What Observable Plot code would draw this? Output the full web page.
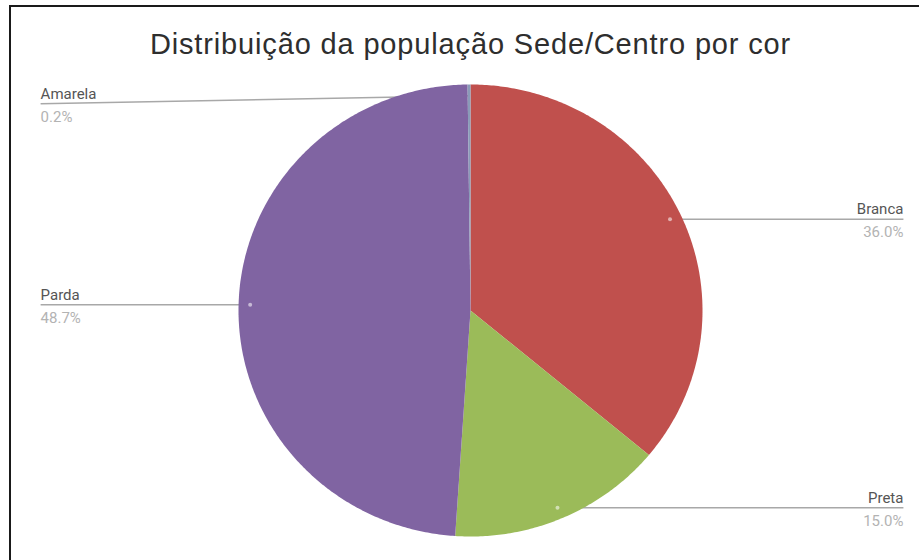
<!DOCTYPE html>
<html><head><meta charset="utf-8">
<script src="https://cdn.jsdelivr.net/npm/d3@7"></script>
<script src="https://cdn.jsdelivr.net/npm/@observablehq/plot@0.6"></script>
<style>
body{margin:0;background:#fff}
#wrap{position:relative;width:919px;height:560px;overflow:hidden;background:#fff}
#wrap svg{position:absolute;left:0;top:0}
#frame{position:absolute;left:9px;top:5px;right:-5px;bottom:-5px;border-top:2px solid #1a1a1a;border-left:2px solid #1a1a1a;pointer-events:none}
.ttl text{letter-spacing:0.85px}
</style>
</head><body><div id="wrap"><div id="frame"></div></div>
<script>
const title = "Distribuição da população Sede/Centro por cor";
const categories = ["Branca", "Preta", "Parda", "Amarela"];
const values = [36.0, 15.0, 48.7, 0.2];
const valueLabels = ["36.0%", "15.0%", "48.7%", "0.2%"];
const colors = ["#c0504d", "#9bbb59", "#8064a2", "#8a9bb8"];

const arcs = d3.pie().sort(null).value(d => d.value).startAngle(0).endAngle(2 * Math.PI)(
  categories.map((c, i) => ({category: c, value: values[i], label: valueLabels[i]}))
);

// slice polygons in unit coordinates
const poly = [];
for (const a of arcs) {
  const n = Math.max(2, Math.ceil((a.endAngle - a.startAngle) / 0.01));
  poly.push({cat: a.data.category, px: 0, py: 0});
  for (let k = 0; k <= n; k++) {
    const t = a.startAngle + (a.endAngle - a.startAngle) * k / n;
    poly.push({cat: a.data.category, px: Math.sin(t), py: Math.cos(t)});
  }
  poly.push({cat: a.data.category, px: 0, py: 0});
}

const anchorR = 0.95;
const leftX = -1.853, rightX = 1.866;
const labels = arcs.map(a => {
  const m = (a.startAngle + a.endAngle) / 2;
  const ax = anchorR * Math.sin(m), ay = anchorR * Math.cos(m);
  const right = ax > 0.05;
  return {
    category: a.data.category, label: a.data.label,
    ax, ay, lx: right ? rightX : leftX, ly: Math.min(ay, 0.915), right
  };
});
const leftLabels = labels.filter(d => !d.right);
const rightLabels = labels.filter(d => d.right);

const labelFont = {fontSize: 15, fontFamily: "Roboto, sans-serif"};
const textMarks = (data, anchor) => [
  Plot.text(data, {x: "lx", y: "ly", text: "category", dy: -10, textAnchor: anchor, fill: "#555", ...labelFont}),
  Plot.text(data, {x: "lx", y: "ly", text: "label", dy: 13, textAnchor: anchor, fill: "#b3b3b3", ...labelFont})
];

const chart = Plot.plot({
  width: 919, height: 560,
  margin: 0,
  x: {domain: [-1, 1], range: [238, 702], axis: null},
  y: {domain: [-1, 1], range: [536, 84], axis: null},
  color: {domain: categories, range: colors},
  style: {background: "transparent"},
  marks: [
    Plot.link(labels, {x1: "ax", y1: "ay", x2: "lx", y2: "ly", stroke: "#a8a8a8", strokeWidth: 1.5}),
    Plot.line(poly, {x: "px", y: "py", z: "cat", fill: "cat", stroke: "none", curve: "linear"}),
    Plot.dot(labels.filter(d => d.category !== "Amarela"), {x: "ax", y: "ay", r: 2, fill: "#fff", fillOpacity: 0.55, stroke: "none"}),
    ...textMarks(leftLabels, "start"),
    ...textMarks(rightLabels, "end"),
    Plot.text([title], {x: () => 0, y: () => 1.133, text: d => d, lineAnchor: "bottom", className: "ttl",
      fill: "#2e2e2e", fontSize: 29, fontFamily: "'Liberation Sans', Arial, sans-serif"})
  ]
});
document.getElementById("wrap").insertBefore(chart, document.getElementById("frame"));
</script>
</body></html>
